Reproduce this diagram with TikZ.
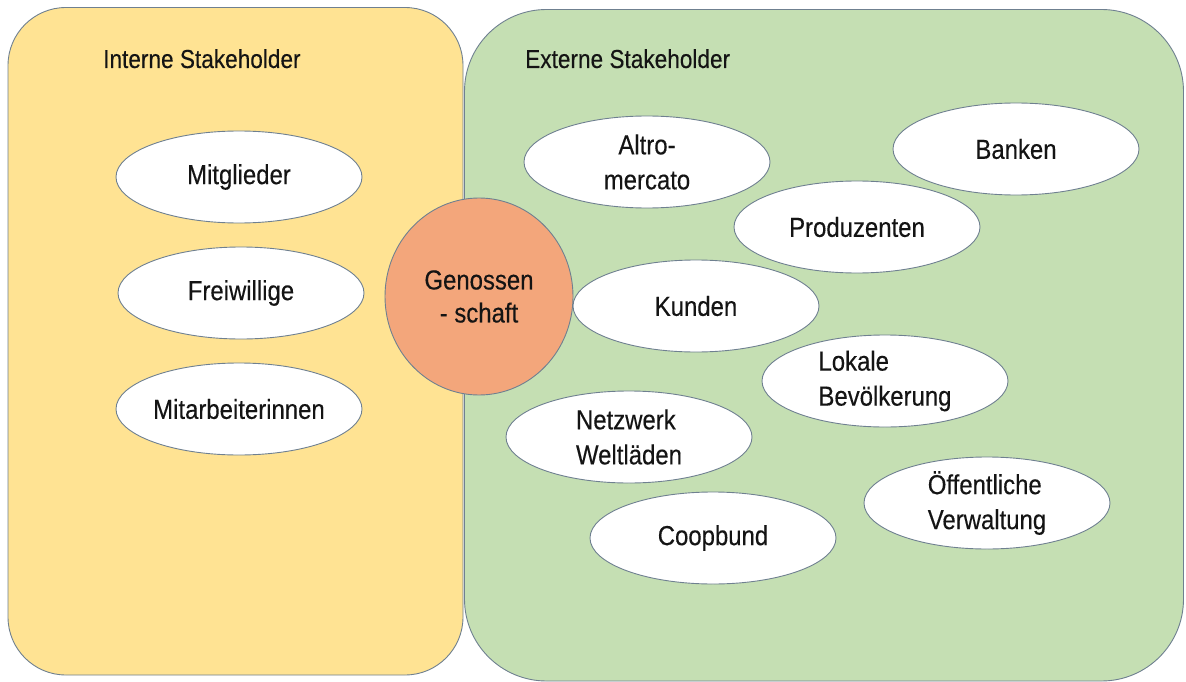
\documentclass[tikz,border=0pt]{standalone}
\usepackage{fontspec}
\setmainfont{Liberation Sans}[FakeStretch=0.87, FakeBold=0.3]
\usetikzlibrary{shapes.geometric}
\definecolor{yellowfill}{HTML}{FFE393}
\definecolor{greenfill}{HTML}{C5DFB3}
\definecolor{orangefill}{HTML}{F3A67B}
\definecolor{edgegray}{HTML}{6F8090}
\definecolor{textdark}{HTML}{141414}
\tikzset{
  groupbox/.style={draw=edgegray, line width=0.9pt},
  grouptitle/.style={anchor=base west, inner sep=0pt, text=textdark, font=\fontsize{26}{30}\selectfont},
  stake/.style={ellipse, draw=edgegray, line width=0.9pt, fill=white, minimum width=246pt, minimum height=92pt, inner sep=0pt, text=textdark, font=\fontsize{27.5}{35}\selectfont},
  core/.style={ellipse, draw=edgegray, line width=0.9pt, fill=orangefill, minimum width=188pt, minimum height=197pt, inner sep=0pt, text=textdark, align=center, font=\fontsize{27.5}{33}\selectfont}
}
\begin{document}
\begin{tikzpicture}[x=1pt, y=-1pt]
\useasboundingbox (0,0) rectangle (1186,682);
\fill[white] (0,0) rectangle (1186,682);
% group boxes
\draw[groupbox, fill=yellowfill, rounded corners=58pt] (8,7.5) rectangle (463,675);
\draw[groupbox, fill=greenfill, rounded corners=82pt] (464.5,9.5) rectangle (1183.5,681);
\node[grouptitle] (tin) at (103,68) {Interne Stakeholder};
\node[grouptitle] (tex) at (525,68) {Externe Stakeholder};
% core
\node[core] (gen) at (479,296.5) {Genossen\\- schaft};
% internal
\node[stake] (mit) at (239,177) {Mitglieder};
\node[stake] (frei) at (241,293) {Freiwillige};
\node[stake] (arb) at (239,409) {Mitarbeiterinnen};
% external
\node[stake, align=center] (altro) at (647,162) {Altro-\\mercato};
\node[stake] (bank) at (1016,149) {Banken};
\node[stake] (prod) at (857,227) {Produzenten};
\node[stake] (kund) at (696,306) {Kunden};
\node[stake, align=left] (lok) at (885,381) {Lokale\\Bevölkerung};
\node[stake, align=left] (netz) at (629,437) {Netzwerk\\Weltläden};
\node[stake, align=left] (oeff) at (987,503) {Öffentliche\\Verwaltung};
\node[stake] (coop) at (713,538) {Coopbund};
\end{tikzpicture}
\end{document}
